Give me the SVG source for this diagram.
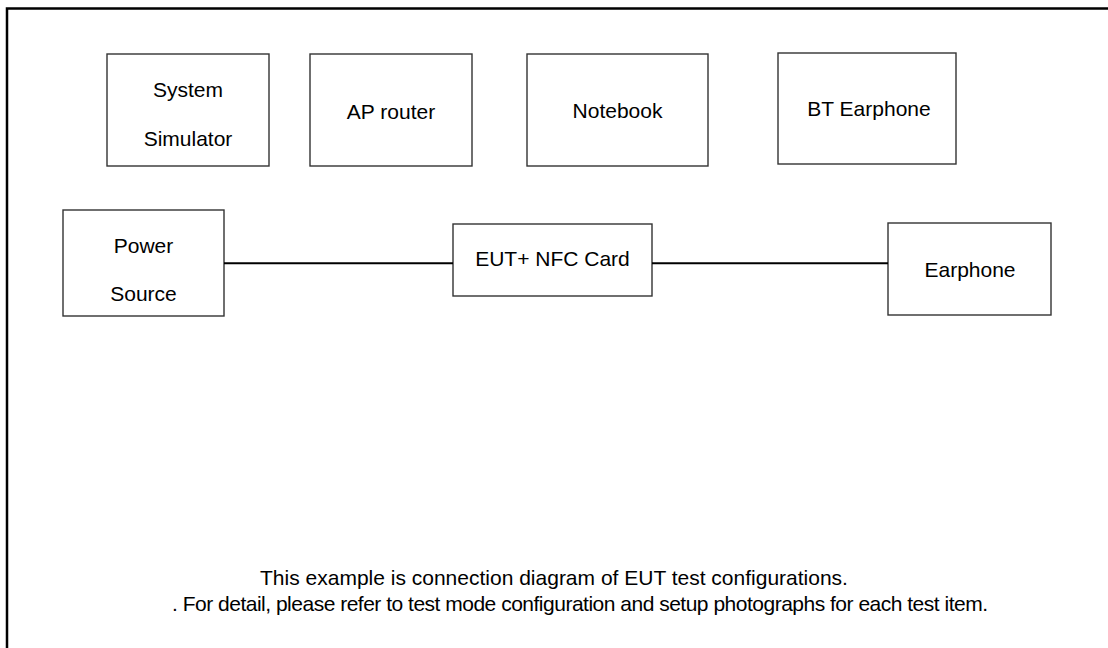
<svg xmlns="http://www.w3.org/2000/svg" width="1108" height="648" viewBox="0 0 1108 648">
<style>
.box{fill:#fff;stroke:#333;stroke-width:1.4}
.t{font-family:"Liberation Sans",Arial,sans-serif;font-size:21px;fill:#000;text-anchor:middle}
.c{stroke:#000;stroke-width:2;fill:none}
</style>
<rect width="1108" height="648" fill="#fff"/>
<path id="frame" d="M7,648 V8.5 H1108" fill="none" stroke="#000" stroke-width="2.5"/>
<g id="system-simulator">
<rect class="box" x="107" y="54" width="162" height="112"/>
<text class="t" x="188" y="97">System</text>
<text class="t" x="188" y="146">Simulator</text>
</g>
<g id="ap-router">
<rect class="box" x="310" y="54" width="162" height="112"/>
<text class="t" x="391" y="119">AP router</text>
</g>
<g id="notebook">
<rect class="box" x="527" y="54" width="181" height="112"/>
<text class="t" x="617.5" y="118">Notebook</text>
</g>
<g id="bt-earphone">
<rect class="box" x="778" y="53" width="178" height="111"/>
<text class="t" x="869" y="116">BT Earphone</text>
</g>
<g id="power-source">
<rect class="box" x="63" y="210" width="161" height="106"/>
<text class="t" x="143.5" y="253">Power</text>
<text class="t" x="143.5" y="301">Source</text>
</g>
<g id="eut">
<rect class="box" x="453" y="224" width="199" height="72"/>
<text class="t" x="552.5" y="266">EUT+ NFC Card</text>
</g>
<g id="earphone">
<rect class="box" x="888" y="223" width="163" height="92"/>
<text class="t" x="970" y="277">Earphone</text>
</g>
<g id="connectors">
<line class="c" x1="224" y1="263.3" x2="453" y2="263.3"/>
<line class="c" x1="652" y1="263.3" x2="888" y2="263.3"/>
</g>
<g id="notes">
<text class="t" x="554" y="585">This example is connection diagram of EUT test configurations.</text>
<text class="t" x="172" y="611" style="text-anchor:start" textLength="816" lengthAdjust="spacing">. For detail, please refer to test mode configuration and setup photographs for each test item.</text>
</g>
</svg>
